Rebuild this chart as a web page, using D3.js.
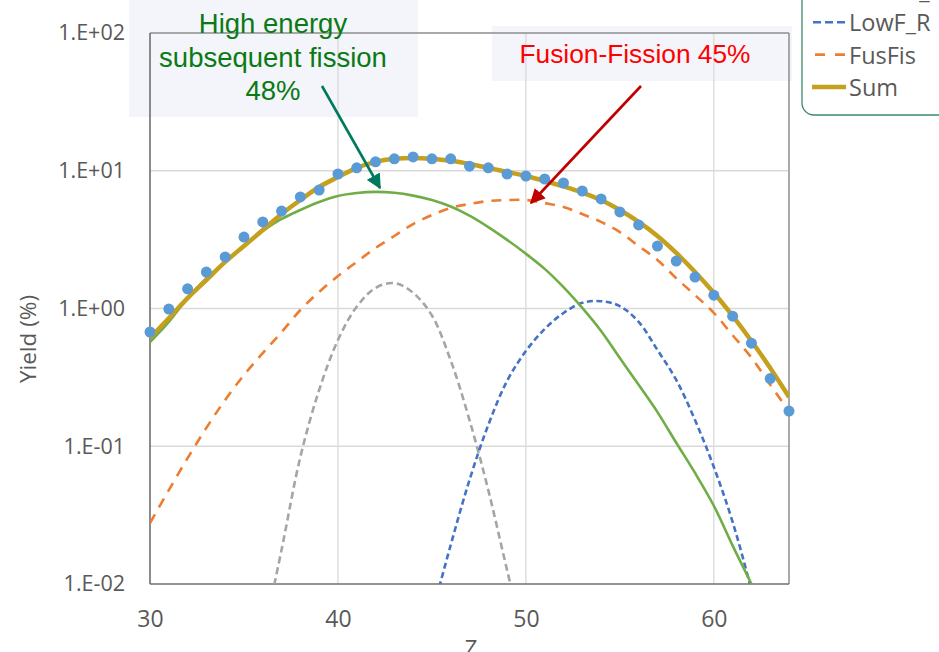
<!DOCTYPE html>
<html>
<head>
<meta charset="utf-8">
<script src="https://cdn.jsdelivr.net/npm/d3@7"></script>
<style>
  body { margin: 0; background: #fff; overflow: hidden; }
  svg { display: block; }
</style>
</head>
<body>
<script>
// values
const zVals = [30, 31, 32, 33, 34, 35, 36, 37, 38, 39, 40, 41, 42, 43, 44, 45, 46,
  47, 48, 49, 50, 51, 52, 53, 54, 55, 56, 57, 58, 59, 60, 61, 62, 63, 64]

const expYield = [0.675, 0.99, 1.39, 1.84, 2.37, 3.3, 4.25, 5.1, 6.45, 7.25, 9.47, 10.5,
  11.6, 12.2, 12.6, 12.2, 12.2, 10.8, 10.5, 9.47, 9.16, 8.71, 8.15, 7.13, 6.24, 5.02,
  4.04, 2.84, 2.21, 1.69, 1.25, 0.88, 0.56, 0.31, 0.18]

const sumYield = [0.61, 0.85, 1.19, 1.61, 2.18, 2.84, 3.71, 4.85, 6.13, 7.62, 9.0, 10.5,
  11.6, 12.2, 12.4, 12.2, 11.8, 11.2, 10.5, 9.8, 9.16, 8.43, 7.7, 6.95, 6.13, 5.19,
  4.25, 3.36, 2.53, 1.84, 1.3, 0.883, 0.581, 0.37, 0.228]

const highEYield = [0.57, 0.8, 1.19, 1.66, 2.18, 2.84, 3.65, 4.47, 5.19, 5.93, 6.56, 6.89,
  7.02, 6.92, 6.6, 6.13, 5.5, 4.72, 3.9, 3.15, 2.5, 1.94, 1.43, 1.01, 0.687, 0.437,
  0.279, 0.177, 0.106, 0.064, 0.037, 0.019, 0.01, 0.005, null]

const fusFisYield = [0.0277, 0.048, 0.082, 0.136, 0.217, 0.329, 0.475, 0.674, 0.975, 1.32,
  1.72, 2.18, 2.75, 3.36, 4.1, 4.77, 5.37, 5.74, 6.03, 6.13, 6.13, 5.83, 5.46, 4.85,
  4.25, 3.59, 2.84, 2.25, 1.66, 1.25, 0.93, 0.64, 0.44, 0.28, 0.18]

const grayYield = [null, null, null, null, null, null, 0.004, 0.0177, 0.0836, 0.256, 0.59,
  1.03, 1.41, 1.53, 1.3, 0.89, 0.42, 0.155, 0.048, 0.0126, 0.0035, null, null, null,
  null, null, null, null, null, null, null, null, null, null, null]

const lowFYield = [null, null, null, null, null, null, null, null, null, null, null, null,
  null, null, null, 0.006, 0.0192, 0.0569, 0.143, 0.298, 0.491, 0.71, 0.927, 1.1, 1.13,
  1.04, 0.8, 0.5, 0.303, 0.155, 0.0707, 0.0282, 0.009, 0.0024, null]

const yTicks = [0.01, 0.1, 1, 10, 100]
const xTicks = [30, 40, 50, 60]

const legendNames = ['HEsub_F', 'LowF_R', 'FusFis', 'Sum']

const W = 939, H = 652
const pLeft = 150, pRight = 789, pTop = 33, pBottom = 584

const svg = d3.select('body').append('svg')
  .attr('width', W)
  .attr('height', H)

const x = d3.scaleLinear().domain([30, 64]).range([pLeft, pRight])
const y = d3.scaleLog().domain([0.01, 100]).range([pBottom, pTop])

// annotation boxes sit behind the plot
svg.append('rect').attr('x', 129).attr('y', 0).attr('width', 289).attr('height', 117)
  .attr('fill', '#f3f5fa')
svg.append('rect').attr('x', 492).attr('y', 26).attr('width', 300).attr('height', 55)
  .attr('fill', '#f3f5fa')

// grid
const grid = svg.append('g').attr('stroke', '#d9d9d9').attr('stroke-width', 1.3)
grid.selectAll('.gx').data(xTicks.slice(1)).join('line')
  .attr('x1', d => x(d)).attr('x2', d => x(d))
  .attr('y1', pTop).attr('y2', pBottom)
grid.selectAll('.gy').data(yTicks.slice(1, -1)).join('line')
  .attr('x1', pLeft).attr('x2', pRight)
  .attr('y1', d => y(d)).attr('y2', d => y(d))

// frame
svg.append('line').attr('x1', pLeft).attr('x2', pRight).attr('y1', pTop).attr('y2', pTop)
  .attr('stroke', '#8c8c8c').attr('stroke-width', 1.5)
svg.append('line').attr('x1', pRight).attr('x2', pRight).attr('y1', pTop).attr('y2', pBottom)
  .attr('stroke', '#8c8c8c').attr('stroke-width', 1.5)
svg.append('line').attr('x1', pLeft).attr('x2', pLeft).attr('y1', pTop).attr('y2', pBottom)
  .attr('stroke', '#6f6f6f').attr('stroke-width', 1.6)
svg.append('line').attr('x1', pLeft).attr('x2', pRight).attr('y1', pBottom).attr('y2', pBottom)
  .attr('stroke', '#6f6f6f').attr('stroke-width', 1.6)

// axes
const fmt = d => {
  const e = Math.round(Math.log10(d))
  return '1.E' + (e < 0 ? '-' : '+') + String(Math.abs(e)).padStart(2, '0')
}
const axisY = d3.axisLeft(y).tickValues(yTicks).tickFormat(fmt).tickSize(0).tickPadding(25)
const gy = svg.append('g').attr('transform', `translate(${pLeft},0)`).call(axisY)
gy.select('.domain').remove()
gy.selectAll('text').attr('font-family', 'Open Sans').attr('font-size', 21.5).attr('fill', '#595959')

const axisX = d3.axisBottom(x).tickValues(xTicks).tickSize(0).tickPadding(27)
const gx = svg.append('g').attr('transform', `translate(0,${pBottom})`).call(axisX)
gx.select('.domain').remove()
gx.selectAll('text').attr('font-family', 'Open Sans').attr('font-size', 23).attr('fill', '#595959')

svg.append('text').attr('transform', 'translate(36,339) rotate(-90)')
  .attr('text-anchor', 'middle').attr('font-family', 'Open Sans').attr('font-size', 22.5)
  .attr('fill', '#595959').text('Yield (%)')
svg.append('text').attr('x', 471).attr('y', 656).attr('text-anchor', 'middle')
  .attr('font-family', 'Open Sans').attr('font-size', 22).attr('fill', '#595959').text('Z')

// curves
svg.append('clipPath').attr('id', 'plot').append('rect')
  .attr('x', pLeft).attr('y', pTop).attr('width', pRight - pLeft).attr('height', pBottom - pTop)
const plot = svg.append('g').attr('clip-path', 'url(#plot)')

const line = vals => d3.line()
  .defined((d, i) => vals[i] != null)
  .x(d => x(d))
  .y((d, i) => y(vals[i]))
  .curve(d3.curveCatmullRom)(zVals)

const series = [
  { vals: grayYield, color: '#a5a5a5', width: 2.6, dash: '7,4' },
  { vals: lowFYield, color: '#4472c4', width: 2.6, dash: '6,3.5' },
  { vals: fusFisYield, color: '#ed7d31', width: 2.6, dash: '10,8' },
  { vals: highEYield, color: '#70ad47', width: 2.6, dash: null },
  { vals: sumYield, color: '#c5a01d', width: 4.5, dash: null }
]
plot.selectAll('.curve').data(series).join('path')
  .attr('d', s => line(s.vals))
  .attr('fill', 'none')
  .attr('stroke', s => s.color)
  .attr('stroke-width', s => s.width)
  .attr('stroke-dasharray', s => s.dash)

svg.append('g').selectAll('circle').data(zVals).join('circle')
  .attr('cx', d => x(d))
  .attr('cy', (d, i) => y(expYield[i]))
  .attr('r', 5.5)
  .attr('fill', '#5b9bd5')

// annotations
const noteFont = 'Liberation Sans, Arial, sans-serif'
const green = svg.append('text').attr('text-anchor', 'middle').attr('font-family', noteFont)
  .attr('font-size', 27.5).attr('fill', '#0a7a14')
green.append('tspan').attr('x', 273).attr('y', 33).text('High energy')
green.append('tspan').attr('x', 273).attr('y', 67).text('subsequent fission')
green.append('tspan').attr('x', 273).attr('y', 100).text('48%')

svg.append('text').attr('x', 635).attr('y', 63).attr('text-anchor', 'middle')
  .attr('font-family', noteFont).attr('font-size', 26.3).attr('fill', '#ff0000')
  .text('Fusion-Fission 45%')

const defs = svg.append('defs')
const marker = (id, color) => defs.append('marker').attr('id', id)
  .attr('viewBox', '0 0 10 10').attr('refX', 9).attr('refY', 5)
  .attr('markerWidth', 5.8).attr('markerHeight', 5.8).attr('orient', 'auto')
  .attr('markerUnits', 'strokeWidth')
  .append('path').attr('d', 'M0,0L10,5L0,10Z').attr('fill', color)
marker('ag', '#007a5e')
marker('ar', '#c00000')

svg.append('line').attr('x1', 322).attr('y1', 86).attr('x2', 380).attr('y2', 188)
  .attr('stroke', '#007a5e').attr('stroke-width', 2.6).attr('marker-end', 'url(#ag)')
svg.append('line').attr('x1', 641).attr('y1', 86).attr('x2', 531).attr('y2', 203)
  .attr('stroke', '#c00000').attr('stroke-width', 2.6).attr('marker-end', 'url(#ar)')

// legend (cut by the page edge)
const lg = svg.append('g')
lg.append('rect').attr('x', 802).attr('y', -30).attr('width', 160).attr('height', 145)
  .attr('rx', 12).attr('fill', '#fff').attr('stroke', '#3c8c6c').attr('stroke-width', 1.3)
const legendStyle = [
  { color: '#a5a5a5', width: 2.6, dash: '7,4', off: 0 },
  { color: '#4472c4', width: 2.6, dash: '8,4', off: -1 },
  { color: '#ed7d31', width: 2.6, dash: '10,10', off: -3 },
  { color: '#c5a01d', width: 4.5, dash: null, off: 0 }
]
legendNames.forEach((name, i) => {
  const base = -1 + i * 32.3
  lg.append('line').attr('x1', 812).attr('x2', 846).attr('y1', base - 9).attr('y2', base - 9)
    .attr('stroke', legendStyle[i].color).attr('stroke-width', legendStyle[i].width)
    .attr('stroke-dasharray', legendStyle[i].dash)
    .attr('stroke-dashoffset', legendStyle[i].off)
  lg.append('text').attr('x', 849).attr('y', base).attr('font-family', 'Open Sans')
    .attr('font-size', 23.5).attr('fill', '#595959').text(name)
})
</script>
</body>
</html>
